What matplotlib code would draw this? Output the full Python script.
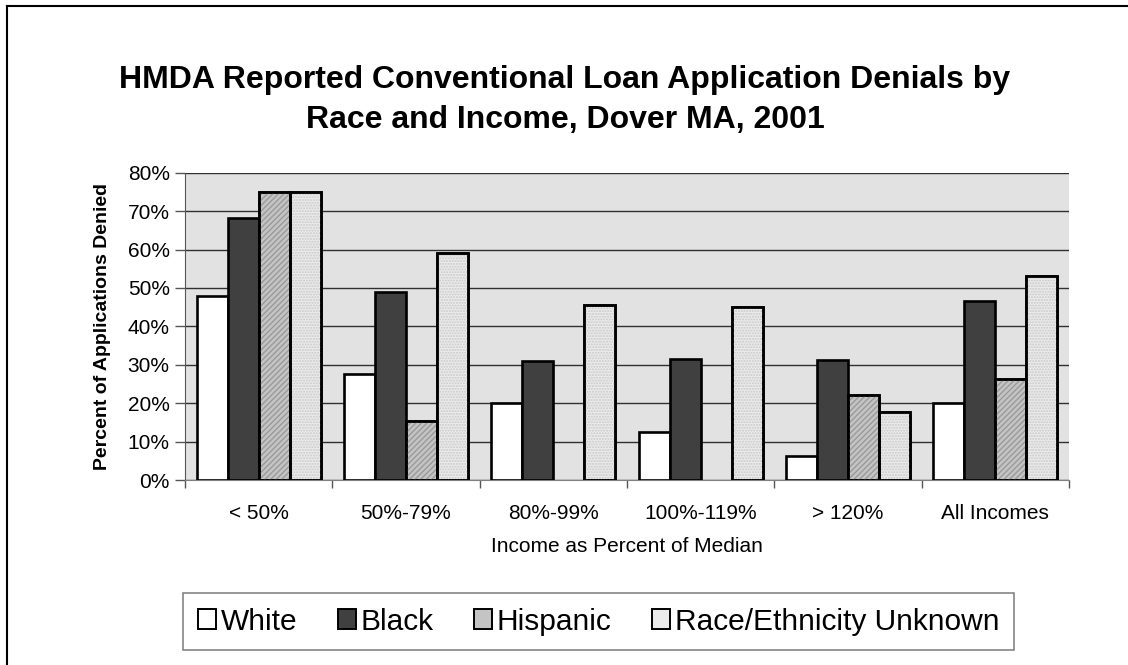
import matplotlib
matplotlib.use("Agg")
import matplotlib.pyplot as plt
import numpy as np
from matplotlib.lines import Line2D
from matplotlib.patches import Patch

categories = ["< 50%", "50%-79%", "80%-99%", "100%-119%", "> 120%", "All Incomes"]
series_names = ["White", "Black", "Hispanic", "Race/Ethnicity Unknown"]
white = [48.0, 27.5, 20.0, 12.5, 6.2, 20.0]
black = [68.2, 49.0, 31.0, 31.5, 31.3, 46.5]
hispanic = [75.0, 15.3, 0.0, 0.0, 22.0, 26.3]
unknown = [75.0, 59.0, 45.5, 45.1, 17.7, 53.0]
yticks = [0, 10, 20, 30, 40, 50, 60, 70, 80]
title = "HMDA Reported Conventional Loan Application Denials by\nRace and Income, Dover MA, 2001"
xlabel = "Income as Percent of Median"
ylabel = "Percent of Applications Denied"

plt.rcParams['font.family'] = ['Liberation Sans', 'DejaVu Sans']

W, H = 1128, 665
fig = plt.figure(figsize=(W / 100, H / 100), dpi=100)
ax = fig.add_axes([185 / W, 1 - 480 / H, (1069 - 185) / W, (480 - 172.7) / H])
ax.set_facecolor('#e2e2e2')

facecolors = ['#ffffff', '#404040', '#c4c4c4', '#ebebeb']
hatches = [None, None, '//////', '......']
hatchcols = [None, None, '#9a9a9a', '#c8c8c8']
data = [white, black, hispanic, unknown]
bw = 0.21
x = np.arange(len(categories))
for i, (vals, fc, h, hc) in enumerate(zip(data, facecolors, hatches, hatchcols)):
    pos = x + (i - 1.5) * bw
    vals = np.array(vals)
    mask = vals > 0
    ax.bar(pos[mask], vals[mask], width=bw, color=fc, edgecolor='black',
           linewidth=1.9, zorder=3)
    if h:
        ax.bar(pos[mask], vals[mask], width=bw, facecolor='none', edgecolor=hc,
               hatch=h, linewidth=0, zorder=3.5)
        ax.bar(pos[mask], vals[mask], width=bw, facecolor='none', edgecolor='black',
               linewidth=1.9, zorder=4)

ax.set_xlim(-0.5, len(categories) - 0.5)
ax.set_ylim(0, 80)
ax.set_yticks(yticks)
ax.set_yticklabels([f"{v}%" for v in yticks], fontsize=15)
ax.yaxis.grid(True, color='#303030', linewidth=1.0, zorder=1)
ax.set_axisbelow(True)

ax.set_xticks(x)
ax.set_xticklabels(categories, fontsize=15)
ax.tick_params(axis='x', length=0, pad=17)
ax.set_xticks(np.arange(len(categories) + 1) - 0.5, minor=True)
ax.tick_params(axis='x', which='minor', length=6, width=1, color='#555555', direction='out')
ax.tick_params(axis='y', length=7, width=1, color='#555555', direction='out', pad=4)

for s in ['top', 'right']:
    ax.spines[s].set_visible(False)
ax.spines['left'].set_color('#555555')
ax.spines['bottom'].set_color('#808080')

ax.set_xlabel(xlabel, fontsize=15, labelpad=10)
ax.set_ylabel(ylabel, fontsize=14, fontweight='bold', labelpad=12)

fig.text(565 / W, 1 - 100 / H, title, ha='center', va='center', fontsize=23,
         fontweight='bold', linespacing=1.45)

# legend
handles = [Patch(facecolor=fc, edgecolor='black', linewidth=1.4) for fc in facecolors]
leg = fig.legend(handles, series_names, loc='center', ncol=4,
                 bbox_to_anchor=(598.5 / W, 1 - 621.5 / H),
                 fontsize=21.5, frameon=True, fancybox=False,
                 edgecolor='#666666', handlelength=0.62, handleheight=0.62,
                 handletextpad=0.15, columnspacing=1.35, borderaxespad=0,
                 borderpad=0.5)
leg.get_frame().set_linewidth(1.2)

# outer border (left and top)
fig.add_artist(Line2D([7 / W, 7 / W], [0, 1 - 6 / H], transform=fig.transFigure,
                      color='black', linewidth=1.5))
fig.add_artist(Line2D([7 / W, 1], [1 - 6 / H, 1 - 6 / H], transform=fig.transFigure,
                      color='black', linewidth=1.5))

fig.savefig('out.png', dpi=100)
